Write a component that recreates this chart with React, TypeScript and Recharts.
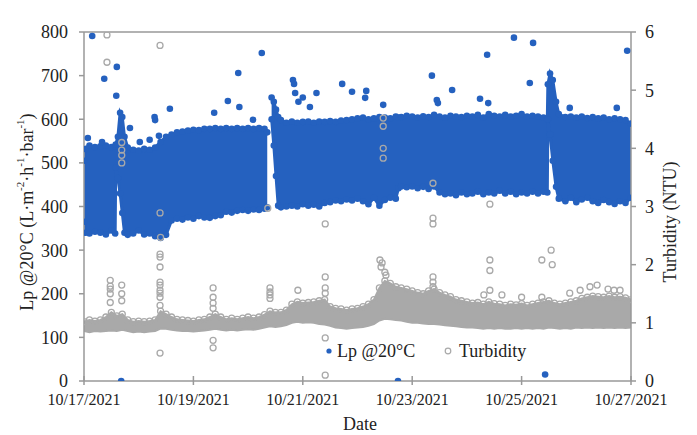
import { Area, ComposedChart, ReferenceLine, Scatter, XAxis, YAxis } from "recharts";

const FONT = '"Liberation Serif", "Times New Roman", serif';
const BLUE = "#2561bf";
const GREY = "#a9a9a9";
const AXIS = "#999999";
const INK = "#222222";

// days since 10/17/2021 00:00
const xTickDays = [0, 2, 4, 6, 8, 10];
const xTickLabels = ["10/17/2021", "10/19/2021", "10/21/2021", "10/23/2021", "10/25/2021", "10/27/2021"];
const lpTicks = [0, 100, 200, 300, 400, 500, 600, 700, 800];
const ntuTicks = [0, 1, 2, 3, 4, 5, 6];

// Lp dense cloud: [day, low, high]
const lpBandA: [number, number, number][] = [
  [0.0, 365, 505], [0.03, 340, 532], [0.1, 338, 540], [0.2, 342, 536], [0.3, 340, 538],
  [0.4, 336, 540], [0.5, 345, 536], [0.57, 338, 538], [0.58, 490, 542], [0.62, 465, 560],
  [0.66, 430, 615], [0.7, 385, 605], [0.74, 340, 560], [0.8, 335, 535], [0.9, 338, 530],
  [1.0, 345, 528], [1.1, 336, 532], [1.2, 338, 530], [1.3, 332, 535], [1.4, 328, 548],
  [1.5, 335, 560], [1.6, 368, 565], [1.7, 372, 570], [1.8, 370, 572], [1.9, 375, 574],
  [2.0, 372, 576], [2.1, 378, 575], [2.2, 375, 578], [2.3, 374, 578], [2.4, 378, 580],
  [2.5, 380, 578], [2.6, 388, 580], [2.7, 386, 578], [2.8, 390, 580], [2.9, 392, 578],
  [3.0, 390, 580], [3.1, 393, 578], [3.2, 392, 580], [3.3, 395, 578], [3.35, 398, 570],
];
const lpBandB: [number, number, number][] = [
  [3.43, 600, 650], [3.47, 540, 640], [3.51, 470, 622], [3.55, 402, 605], [3.6, 398, 598],
  [3.7, 400, 592], [3.8, 402, 595], [3.9, 400, 592], [4.0, 405, 594], [4.1, 402, 595],
  [4.2, 404, 592], [4.3, 400, 595], [4.4, 408, 594], [4.5, 410, 596], [4.6, 414, 594],
  [4.7, 412, 597], [4.8, 416, 598], [4.9, 414, 600], [5.0, 418, 602], [5.1, 412, 604],
  [5.2, 405, 600], [5.3, 420, 602], [5.4, 402, 605], [5.5, 415, 604], [5.6, 420, 602],
  [5.7, 418, 606], [5.75, 442, 604], [5.8, 446, 605], [5.9, 444, 608], [6.0, 446, 606],
  [6.1, 442, 604], [6.2, 445, 607], [6.3, 440, 605], [6.4, 446, 610], [6.5, 432, 606],
  [6.6, 428, 604], [6.7, 430, 608], [6.8, 426, 606], [6.9, 432, 605], [7.0, 428, 608],
  [7.1, 430, 606], [7.2, 434, 610], [7.3, 428, 604], [7.4, 432, 612], [7.5, 430, 608],
  [7.6, 436, 606], [7.7, 430, 610], [7.8, 434, 606], [7.9, 428, 608], [8.0, 432, 612],
  [8.1, 430, 606], [8.2, 434, 608], [8.3, 430, 606], [8.4, 434, 604], [8.47, 432, 600],
  [8.48, 600, 680], [8.52, 565, 705], [8.57, 505, 690], [8.63, 445, 640], [8.68, 418, 612],
  [8.8, 412, 605], [8.9, 420, 606], [9.0, 410, 604], [9.1, 416, 606], [9.2, 420, 603],
  [9.3, 412, 605], [9.4, 408, 602], [9.5, 415, 604], [9.6, 410, 600], [9.7, 406, 602],
  [9.8, 412, 600], [9.9, 408, 598], [10.0, 420, 590],
];
// Lp isolated points: [day, value]
const lpOutliers: [number, number][] = [
  [0.07, 557], [0.15, 791], [0.33, 548], [0.37, 693], [0.59, 654], [0.6, 720], [0.68, 0],
  [0.84, 580], [1.02, 548], [1.2, 553], [1.29, 605], [1.3, 598], [1.37, 562], [1.57, 624],
  [2.38, 615], [2.63, 642], [2.82, 706], [2.84, 628], [3.09, 599], [3.25, 752],
  [3.82, 690], [3.84, 681], [3.86, 660], [3.92, 640], [4.0, 650], [4.13, 628], [4.25, 660],
  [4.72, 681], [4.9, 663], [5.14, 649], [5.16, 665], [5.47, 633], [5.74, 0],
  [6.36, 700], [6.45, 644], [6.47, 637], [6.73, 667], [7.24, 647], [7.37, 748], [7.39, 637],
  [7.86, 787], [8.15, 683], [8.21, 775], [8.43, 15], [8.88, 626], [9.74, 626], [9.93, 757],
];

// Turbidity dense cloud: [day, low, high] in NTU
const ntuBand: [number, number, number][] = [
  [0.0, 0.86, 1.02], [0.1, 0.84, 1.05], [0.2, 0.86, 1.03], [0.3, 0.85, 1.05], [0.4, 0.86, 1.1],
  [0.5, 0.87, 1.18], [0.6, 0.86, 1.12], [0.7, 0.88, 1.15], [0.8, 0.86, 1.05], [0.9, 0.84, 1.02],
  [1.0, 0.85, 1.03], [1.1, 0.84, 1.02], [1.2, 0.85, 1.03], [1.3, 0.86, 1.05], [1.4, 0.9, 1.2],
  [1.5, 0.9, 1.15], [1.6, 0.88, 1.1], [1.7, 0.87, 1.06], [1.8, 0.86, 1.05], [1.9, 0.86, 1.04],
  [2.0, 0.85, 1.03], [2.1, 0.86, 1.05], [2.2, 0.87, 1.06], [2.3, 0.88, 1.1], [2.4, 0.9, 1.15],
  [2.5, 0.88, 1.1], [2.6, 0.87, 1.06], [2.7, 0.88, 1.08], [2.8, 0.87, 1.06], [2.9, 0.88, 1.08],
  [3.0, 0.89, 1.1], [3.1, 0.88, 1.08], [3.2, 0.9, 1.1], [3.3, 0.92, 1.14], [3.4, 0.94, 1.2],
  [3.5, 0.93, 1.18], [3.6, 0.94, 1.18], [3.7, 0.96, 1.22], [3.8, 1.0, 1.32], [3.9, 1.02, 1.36],
  [4.0, 1.0, 1.34], [4.1, 1.01, 1.35], [4.2, 1.0, 1.36], [4.3, 0.98, 1.38], [4.4, 0.97, 1.4],
  [4.5, 0.95, 1.28], [4.6, 0.92, 1.25], [4.7, 0.91, 1.24], [4.8, 0.9, 1.22], [4.9, 0.91, 1.24],
  [5.0, 0.92, 1.25], [5.1, 0.93, 1.28], [5.2, 0.95, 1.32], [5.3, 0.98, 1.4], [5.4, 1.04, 1.6],
  [5.5, 1.07, 1.72], [5.6, 1.06, 1.68], [5.7, 1.05, 1.62], [5.8, 1.04, 1.6], [5.9, 1.02, 1.58],
  [6.0, 1.0, 1.55], [6.1, 1.0, 1.52], [6.2, 0.99, 1.5], [6.3, 0.98, 1.55], [6.4, 0.98, 1.58],
  [6.5, 0.97, 1.52], [6.6, 0.96, 1.48], [6.7, 0.95, 1.45], [6.8, 0.94, 1.4], [6.9, 0.93, 1.38],
  [7.0, 0.92, 1.36], [7.1, 0.92, 1.34], [7.2, 0.91, 1.35], [7.3, 0.9, 1.32], [7.4, 0.91, 1.36],
  [7.5, 0.9, 1.33], [7.6, 0.91, 1.32], [7.7, 0.9, 1.3], [7.8, 0.9, 1.32], [7.9, 0.91, 1.31],
  [8.0, 0.9, 1.33], [8.1, 0.91, 1.3], [8.2, 0.9, 1.32], [8.3, 0.91, 1.34], [8.4, 0.9, 1.36],
  [8.5, 0.92, 1.38], [8.6, 0.91, 1.34], [8.7, 0.9, 1.32], [8.8, 0.91, 1.34], [8.9, 0.9, 1.36],
  [9.0, 0.92, 1.38], [9.1, 0.91, 1.42], [9.2, 0.92, 1.44], [9.3, 0.91, 1.46], [9.4, 0.92, 1.45],
  [9.5, 0.91, 1.44], [9.6, 0.92, 1.46], [9.7, 0.91, 1.44], [9.8, 0.92, 1.45], [9.9, 0.91, 1.43],
  [10.0, 0.92, 1.4],
];
const ntuOutliers: [number, number][] = [
  [0.42, 5.95], [0.42, 5.48], [1.39, 5.77],
  [0.69, 4.1], [0.69, 3.97], [0.69, 3.88], [0.69, 3.75],
  [0.48, 1.73], [0.48, 1.63], [0.48, 1.58], [0.48, 1.5], [0.48, 1.35],
  [0.69, 1.65], [0.69, 1.5], [0.69, 1.38],
  [1.39, 2.89], [1.4, 2.47], [1.39, 2.18], [1.39, 2.13], [1.39, 1.96], [1.39, 1.7],
  [1.39, 1.65], [1.39, 1.56], [1.39, 1.51], [1.39, 1.44], [1.39, 1.3], [1.39, 0.48],
  [2.36, 1.6], [2.36, 1.44], [2.36, 1.34], [2.36, 1.25], [2.36, 0.7], [2.36, 0.57],
  [3.36, 2.97], [3.4, 1.6], [3.4, 1.53], [3.4, 1.48], [3.4, 1.42], [3.91, 1.56],
  [4.41, 2.7], [4.41, 1.79], [4.41, 1.6], [4.41, 1.51], [4.41, 0.74], [4.41, 0.1],
  [5.47, 4.52], [5.47, 4.38], [5.47, 4.0], [5.47, 3.83],
  [5.41, 2.08], [5.45, 2.03], [5.43, 1.96], [5.5, 1.87], [5.52, 1.82],
  [6.38, 3.4], [6.38, 2.8], [6.38, 2.7], [6.38, 1.79], [6.38, 1.7], [6.38, 1.62],
  [7.42, 3.04], [7.42, 2.08], [7.42, 1.9], [7.42, 1.56], [7.31, 1.48], [7.64, 1.48], [8.0, 1.44],
  [8.37, 2.08], [8.54, 2.25], [8.56, 2.0], [8.37, 1.44], [8.88, 1.51], [9.07, 1.56],
  [9.25, 1.62], [9.38, 1.65], [9.58, 1.58], [9.69, 1.56], [9.8, 1.56],
];

const toBand = (rows: [number, number, number][]) => rows.map(([d, lo, hi]) => ({ d, r: [lo, hi] }));
const toEdges = (rows: [number, number, number][]) =>
  rows.flatMap(([d, lo, hi]) => [{ d, v: lo }, { d, v: hi }]);
const toTops = (rows: [number, number, number][]) => rows.map(([d, , hi]) => ({ d, v: hi }));
const toPoints = (rows: [number, number][]) => rows.map(([d, v]) => ({ d, v }));

const BlueDot = (p: any) => <circle cx={p.cx} cy={p.cy} r={3.3} fill={BLUE} />;
const GreyRing = (p: any) => (
  <circle cx={p.cx} cy={p.cy} r={3} fill="none" stroke={GREY} strokeWidth={1.3} />
);

function DateTick({ x, y, payload }: any) {
  const i = xTickDays.indexOf(payload.value);
  return (
    <g>
      <line x1={x} x2={x} y1={y - 5} y2={y + 4} stroke={AXIS} strokeWidth={1.5} />
      <text x={x} y={y + 13} dy="0.71em" textAnchor="middle" fontSize={16} fill={INK} fontFamily={FONT}>
        {xTickLabels[i]}
      </text>
    </g>
  );
}

const tickStyle = { fontSize: 18, fill: INK, fontFamily: FONT };

export default function App() {
  return (
    <div style={{ position: "absolute", left: 0, top: 0, width: 697, height: 435, background: "#fff" }}>
      <ComposedChart width={697} height={435} margin={{ top: 32, right: 0, bottom: 0, left: 0 }}>
        <XAxis
          dataKey="d"
          type="number"
          domain={[0, 10]}
          ticks={xTickDays}
          allowDataOverflow
          height={54}
          stroke={AXIS}
          strokeWidth={1.5}
          tickLine={false}
          tickSize={0}
          tickMargin={0}
          tick={<DateTick />}
        />
        <YAxis
          yAxisId="lp"
          domain={[0, 800]}
          ticks={lpTicks}
          width={84}
          allowDataOverflow
          stroke={AXIS}
          strokeWidth={1.5}
          tickSize={5}
          tickMargin={11}
          tick={tickStyle}
        />
        <YAxis
          yAxisId="nt"
          orientation="right"
          domain={[0, 6]}
          ticks={ntuTicks}
          width={66}
          allowDataOverflow
          stroke={AXIS}
          strokeWidth={1.5}
          tickSize={5}
          tickMargin={9}
          tick={tickStyle}
        />
        <ReferenceLine yAxisId="lp" y={800} stroke={AXIS} strokeWidth={1.5} />

        <Area yAxisId="lp" data={toBand(lpBandA)} dataKey="r" type="linear" stroke={BLUE} strokeWidth={3} fill={BLUE} fillOpacity={1} isAnimationActive={false} activeDot={false} />
        <Area yAxisId="lp" data={toBand(lpBandB)} dataKey="r" type="linear" stroke={BLUE} strokeWidth={3} fill={BLUE} fillOpacity={1} isAnimationActive={false} activeDot={false} />
        <Scatter yAxisId="lp" data={toEdges(lpBandA)} dataKey="v" shape={BlueDot} isAnimationActive={false} />
        <Scatter yAxisId="lp" data={toEdges(lpBandB)} dataKey="v" shape={BlueDot} isAnimationActive={false} />
        <Scatter yAxisId="lp" data={toPoints(lpOutliers)} dataKey="v" shape={BlueDot} isAnimationActive={false} />

        <Area yAxisId="nt" data={toBand(ntuBand)} dataKey="r" type="linear" stroke={GREY} strokeWidth={2} fill={GREY} fillOpacity={1} isAnimationActive={false} activeDot={false} />
        <Scatter yAxisId="nt" data={toTops(ntuBand)} dataKey="v" shape={GreyRing} isAnimationActive={false} />
        <Scatter yAxisId="nt" data={toPoints(ntuOutliers)} dataKey="v" shape={GreyRing} isAnimationActive={false} />
      </ComposedChart>

      <svg width={697} height={435} style={{ position: "absolute", left: 0, top: 0, pointerEvents: "none" }}>
        <g fontFamily={FONT} fill={INK} fontSize={18}>
          <text transform="translate(27 212) rotate(-90)" textAnchor="middle" dominantBaseline="central">
            Lp @20°C (L·m<tspan dy={-7} fontSize={11}>-2</tspan>
            <tspan dy={7}>·h</tspan>
            <tspan dy={-7} fontSize={11}>-1</tspan>
            <tspan dy={7}>·bar</tspan>
            <tspan dy={-7} fontSize={11}>-1</tspan>
            <tspan dy={7}>)</tspan>
          </text>
          <text transform="translate(670 222) rotate(-90)" textAnchor="middle" dominantBaseline="central">
            Turbidity (NTU)
          </text>
          <text x={360} y={424} textAnchor="middle" dominantBaseline="central">
            Date
          </text>
          <circle cx={329} cy={351} r={2.6} fill={BLUE} />
          <text x={337} y={351} dominantBaseline="central">
            Lp @20°C
          </text>
          <circle cx={448} cy={351} r={2.8} fill="none" stroke={GREY} strokeWidth={1.2} />
          <text x={459} y={351} dominantBaseline="central">
            Turbidity
          </text>
        </g>
      </svg>
    </div>
  );
}
